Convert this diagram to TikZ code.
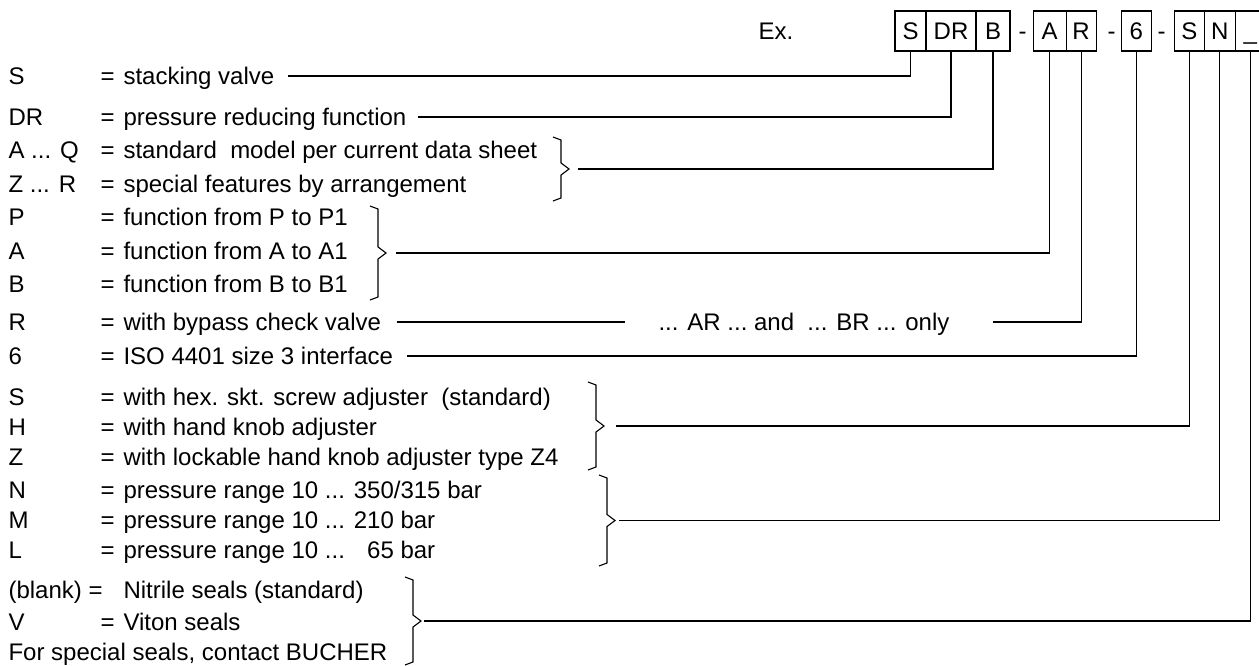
\documentclass[tikz,border=0pt]{standalone}
\usepackage{fontspec}
\setmainfont{Liberation Sans}
\usetikzlibrary{positioning}

% brace that groups several lines: x, top, bottom, name of its tip
\newcommand{\grpbrace}[4]{
    \draw (#1-8,#2-3) -- (#1,#2) -- (#1,{(#2+#3)/2-6}) -- (#1+8,{(#2+#3)/2})
        -- (#1,{(#2+#3)/2+6}) -- (#1,#3) -- (#1-8,#3+3);
    \coordinate (#4) at (#1+8,{(#2+#3)/2});
}

\begin{document}
\begin{tikzpicture}[x=1pt,y=-1pt,line width=1.1pt,
    every node/.style={font=\fontsize{24pt}{28pt}\selectfont,inner sep=0pt},
    row/.style={anchor=west,text height=17pt,text depth=0pt},
    sep/.style={text height=17pt,text depth=0pt},
    codebox/.style={draw,outer sep=0pt,minimum height=40pt,minimum width=#1,
        text height=17pt,text depth=0pt}]
            \useasboundingbox (0,0) rectangle (1259,666);

            % type code
            \node[row] (ex) at (758,31) {Ex.};
            \node[codebox=31] (bS) at (910.5,31) {S};
            \node[codebox=50,right=0pt of bS] (bDR) {DR};
            \node[codebox=34,right=0pt of bDR] (bB) {B};
            \node[sep,right=8pt of bB] (h1) {-};
            \node[codebox=33,right=6pt of h1] (bA) {A};
            \node[codebox=30,right=0pt of bA] (bR) {R};
            \node[sep,right=11pt of bR] (h2) {-};
            \node[codebox=30,right=5pt of h2] (b6) {6};
            \node[sep,right=6pt of b6] (h3) {-};
            \node[codebox=30,right=8pt of h3] (bAdj) {S};
            \node[codebox=31,right=0pt of bAdj] (bN) {N};
            \node[codebox=30,right=0pt of bN] (bSeal) {\_};

            % key
            \node[row] (kS) at (8,76) {S};
            \node[row] (eS) at (100,76) {=};
            \node[row] (dS) at (123,76) {stacking valve};
            \node[row] (kDR) at (8,117) {DR};
            \node[row] (eDR) at (100,117) {=};
            \node[row] (dDR) at (123,117) {pressure reducing function};
            \node[row] (kAQ) at (8,150) {A ... Q};
            \node[row] (eAQ) at (100,150) {=};
            \node[row] (dAQ) at (123,150) {standard\ \ model per current data sheet};
            \node[row] (kZR) at (8,184) {Z ... R};
            \node[row] (eZR) at (100,184) {=};
            \node[row] (dZR) at (123,184) {special features by arrangement};
            \node[row] (kP) at (8,217) {P};
            \node[row] (eP) at (100,217) {=};
            \node[row] (dP) at (123,217) {function from P to P1};
            \node[row] (kA) at (8,251) {A};
            \node[row] (eA) at (100,251) {=};
            \node[row] (dA) at (123,251) {function from A to A1};
            \node[row] (kB) at (8,284) {B};
            \node[row] (eB) at (100,284) {=};
            \node[row] (dB) at (123,284) {function from B to B1};
            \node[row] (kR) at (8,322) {R};
            \node[row] (eR) at (100,322) {=};
            \node[row] (dR) at (123,322) {with bypass check valve};
            \node[row] (k6) at (8,356) {6};
            \node[row] (e6) at (100,356) {=};
            \node[row] (d6) at (123,356) {ISO 4401 size 3 interface};
            \node[row] (kHex) at (8,397) {S};
            \node[row] (eHex) at (100,397) {=};
            \node[row] (dHex) at (123,397) {with hex. skt. screw adjuster\ \ (standard)};
            \node[row] (kH) at (8,427) {H};
            \node[row] (eH) at (100,427) {=};
            \node[row] (dH) at (123,427) {with hand knob adjuster};
            \node[row] (kZ) at (8,457) {Z};
            \node[row] (eZ) at (100,457) {=};
            \node[row] (dZ) at (123,457) {with lockable hand knob adjuster type Z4};
            \node[row] (kN) at (8,490) {N};
            \node[row] (eN) at (100,490) {=};
            \node[row] (dN) at (123,490) {pressure range 10 ... 350/315 bar};
            \node[row] (kM) at (8,520) {M};
            \node[row] (eM) at (100,520) {=};
            \node[row] (dM) at (123,520) {pressure range 10 ... 210 bar};
            \node[row] (kL) at (8,550) {L};
            \node[row] (eL) at (100,550) {=};
            \node[row] (dL) at (123,550) {pressure range 10 ... \hphantom{2}65 bar};
            \node[row] (kNbr) at (8,590) {(blank)};
            \node[row] (eNbr) at (88,590) {=};
            \node[row] (dNbr) at (123,590) {Nitrile seals (standard)};
            \node[row] (kV) at (8,622) {V};
            \node[row] (eV) at (100,622) {=};
            \node[row] (dV) at (123,622) {Viton seals};
            \node[row] (dOther) at (8,652) {For special seals, contact\ BUCHER};

            % braces
            \grpbrace{561}{140}{198}{tAQ}
            \grpbrace{378}{209}{297}{tP}
            \grpbrace{596}{385}{467}{tAdj}
            \grpbrace{607}{478}{563}{tN}
            \grpbrace{413}{580}{662}{tSeal}

            % connectors
            \draw ([xshift=13pt]dS.east) -| (bS.south);
            \draw ([xshift=11pt]dDR.east) -| (bDR.south);
            \draw ([xshift=9pt]tAQ) -| (bB.south);
            \draw ([xshift=10pt]tP) -| (bA.south);
            \coordinate (rL) at (625,322);
            \coordinate (rR) at (993,322);
            \node[row] (nR) at (658,322) {... AR ...\ and\ \ ... BR ... only};
            \draw ([xshift=15pt]dR.east) -- (rL);
            \draw (rR) -| (bR.south);
            \draw ([xshift=13pt]d6.east) -| (b6.south);
            \draw ([xshift=12pt]tAdj) -| (bAdj.south);
            \draw ([xshift=4pt]tN) -| (bN.south);
            \draw ([xshift=3pt]tSeal) -| (bSeal.south);

            \end{tikzpicture}
\end{document}
